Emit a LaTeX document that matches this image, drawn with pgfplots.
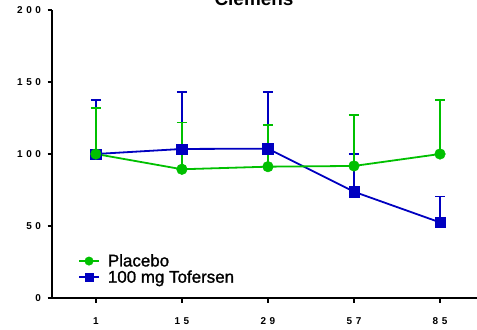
\documentclass[border=0pt]{standalone}
\usepackage{pgfplots}
\pgfplotsset{compat=1.18}
\usepackage{fontspec}
\setmainfont{Liberation Sans}
\newfontfamily\legfont[FakeBold=1.2]{Liberation Sans}
\definecolor{pgreen}{RGB}{0,192,0}
\definecolor{pblue}{RGB}{0,0,192}
\newcommand{\gp}{\hspace{3.6bp}}
\begin{document}
\begin{tikzpicture}
\begin{axis}[
  at={(52bp,32bp)}, anchor=south west,
  scale only axis, width=425bp, height=288bp,
  xmin=-0.51, xmax=4.43, ymin=0, ymax=200,
  axis lines=left, axis line style={line width=1.6bp, -},
  xtick={0,1,2,3,4},
  xticklabels={1, 1\gp5, 2\gp9, 5\gp7, 8\gp5},
  ytick={0,50,100,150,200},
  yticklabels={0, 5\gp0, 1\gp0\gp0, 1\gp5\gp0, 2\gp0\gp0},
  tick style={line width=1.6bp, black},
  major tick length=4.5bp,
  xtick align=outside, ytick align=outside,
  ticklabel style={font=\fontsize{10}{10}\selectfont\bfseries},
  xticklabel style={yshift=-12bp},
  yticklabel style={xshift=-3bp},
  clip=false,
  reverse legend,
  legend style={draw=none, fill=none, at={(rel axis cs:0.061,0.10)}, anchor=west,
    font=\legfont\fontsize{17}{17}\selectfont, row sep=0.5bp, inner sep=0pt,
    nodes={inner sep=1bp, anchor=west}},
  legend cell align=left,
  legend image code/.code={\draw[#1] (0bp,0bp) -- (20bp,0bp);
    \draw[#1, only marks, mark size=4.2bp] plot coordinates {(10bp,0bp)};
    \path (27bp,0bp);},
]
\addplot[pblue, line width=1.8bp, mark=square*, mark size=5.2bp, mark options={solid, fill=pblue, draw=pblue, line width=0.5bp},
  error bars/.cd, y dir=plus, y explicit,
  error bar style={line width=1.6bp, pblue},
  error mark options={rotate=90, mark size=5bp, line width=1.6bp, pblue}]
  coordinates {(0,100) +- (0,37.7) (1,103.5) +- (0,39.5) (2,103.7) +- (0,39.3) (3,73.8) +- (0,26.2) (4,52.5) +- (0,17.9)};
\addplot[pgreen, line width=1.8bp, mark=*, mark size=5.3bp, mark options={solid, fill=pgreen, draw=pgreen, line width=0.5bp},
  error bars/.cd, y dir=plus, y explicit,
  error bar style={line width=1.6bp, pgreen},
  error mark options={rotate=90, mark size=5bp, line width=1.6bp, pgreen}]
  coordinates {(0,100) +- (0,32) (1,89.4) +- (0,32.6) (2,91.2) +- (0,28.8) (3,91.7) +- (0,35.3) (4,100) +- (0,37.5)};
\legend{100 mg Tofersen, Placebo}
\end{axis}
\node[anchor=base, font=\fontsize{19}{19}\selectfont\bfseries] at (254bp,324bp) {Clemens};
\pgfresetboundingbox
\useasboundingbox (0,0) rectangle (477bp,330bp);
\end{tikzpicture}
\end{document}
